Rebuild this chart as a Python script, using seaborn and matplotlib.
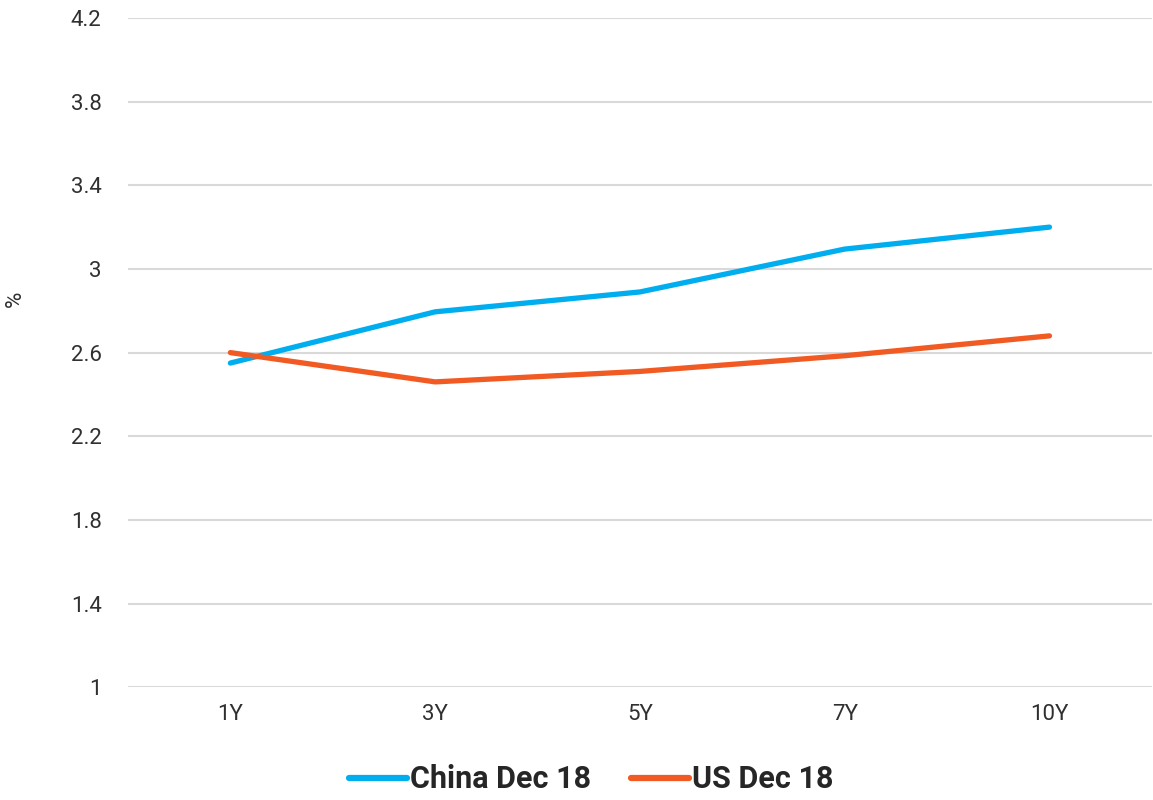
import seaborn as sns
import matplotlib.pyplot as plt
import pandas as pd

# tenors and yields (%)
tenors = ['1Y', '3Y', '5Y', '7Y', '10Y']
china = [2.55, 2.795, 2.89, 3.095, 3.20]
us = [2.60, 2.46, 2.51, 2.585, 2.68]
series = ['China Dec 18', 'US Dec 18']
colors = ['#00AEEF', '#F15A22']
yticks = [1, 1.4, 1.8, 2.2, 2.6, 3, 3.4, 3.8, 4.2]

df = pd.DataFrame({
    'tenor': tenors * 2,
    'value': china + us,
    'series': [series[0]] * len(tenors) + [series[1]] * len(tenors),
})

sns.set_style('white')
plt.rcParams['font.family'] = ['Roboto', 'DejaVu Sans']

fig = plt.figure(figsize=(11.53, 8), dpi=100)
ax = fig.add_axes([0.111, 0.141, 0.888, 0.8365])

sns.lineplot(data=df, x='tenor', y='value', hue='series',
             palette=dict(zip(series, colors)), linewidth=3.8,
             solid_capstyle='round', sort=False, ax=ax, legend=False)

ax.set_xlim(-0.5, len(tenors) - 0.5)
ax.set_ylim(1, 4.2)
ax.set_yticks(yticks)
ax.set_yticklabels(['1', '1.4', '1.8', '2.2', '2.6', '3', '3.4', '3.8', '4.2'])
ax.yaxis.grid(True, color='#d9d9d9', linewidth=1.5)
ax.set_axisbelow(True)
for s in ax.spines.values():
    s.set_visible(False)
ax.tick_params(axis='both', length=0, labelsize=16, labelcolor='#303030')
ax.tick_params(axis='y', pad=19)
ax.tick_params(axis='x', pad=12)
ax.set_xlabel('')
ax.set_ylabel('%', fontsize=16, color='#303030')
ax.yaxis.set_label_coords(-0.1, 0.58)

handles = [plt.Line2D([], [], color=c, linewidth=4.5, solid_capstyle='round') for c in colors]
fig.legend(handles, series, loc='center', bbox_to_anchor=(0.513, 0.026), ncol=2,
           frameon=False, handlelength=1.9, handletextpad=0.1, columnspacing=1.3,
           prop={'size': 22, 'weight': 'bold'})

fig.savefig('out.png', dpi=100)
